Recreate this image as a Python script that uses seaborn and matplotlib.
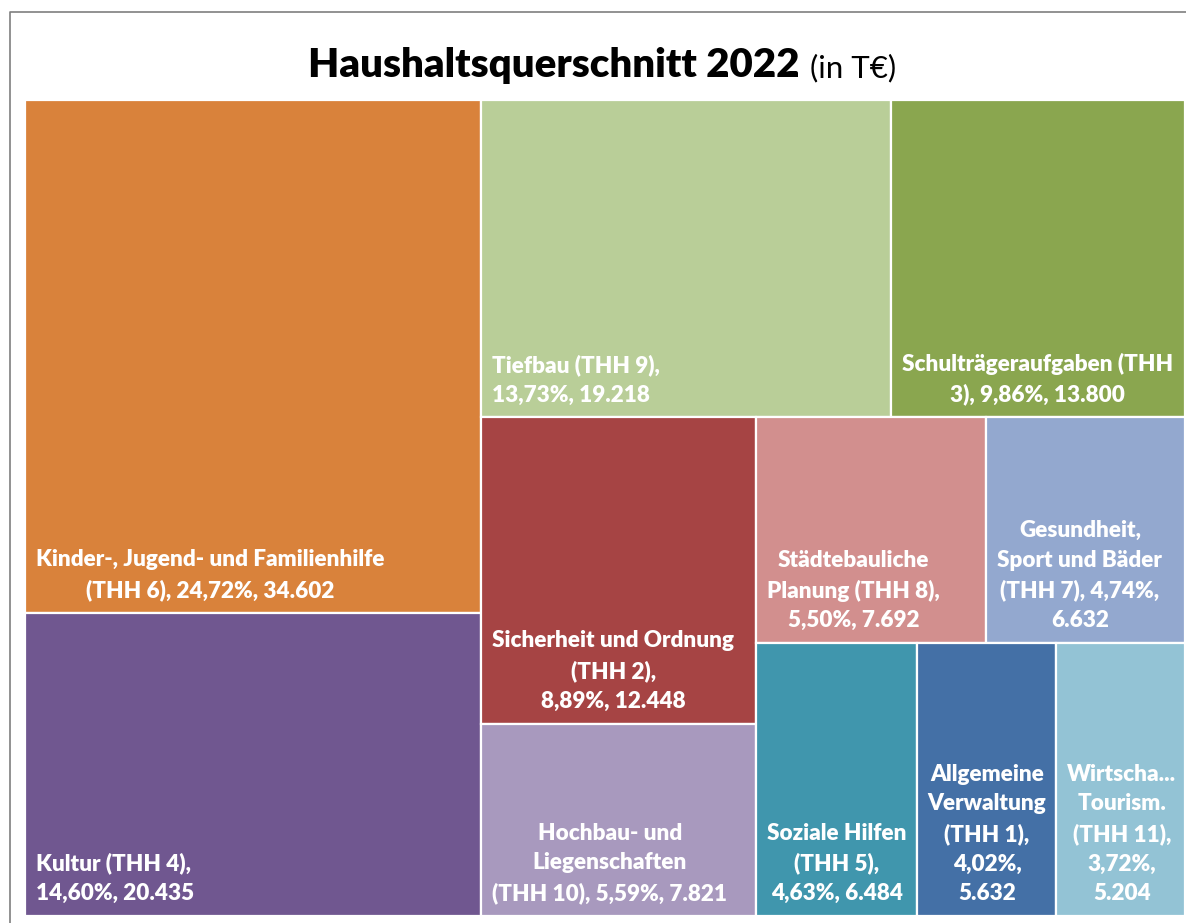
import matplotlib
matplotlib.use("Agg")
import matplotlib.pyplot as plt
import seaborn as sns
from matplotlib.lines import Line2D

# data: Haushaltsquerschnitt 2022, values in T€
names = [
    "Kinder-, Jugend- und Familienhilfe\n(THH 6), {p}, {v}",
    "Kultur (THH 4),\n{p}, {v}",
    "Tiefbau (THH 9),\n{p}, {v}",
    "Schulträgeraufgaben (THH\n3), {p}, {v}",
    "Sicherheit und Ordnung\n(THH 2),\n{p}, {v}",
    "Hochbau- und\nLiegenschaften\n(THH 10), {p}, {v}",
    "Städtebauliche\nPlanung (THH 8),\n{p}, {v}",
    "Gesundheit,\nSport und Bäder\n(THH 7), {p},\n{v}",
    "Soziale Hilfen\n(THH 5),\n{p}, {v}",
    "Allgemeine\nVerwaltung\n(THH 1),\n{p},\n{v}",
    "Wirtscha...\nTourism.\n(THH 11),\n{p},\n{v}",
]
values = [34602, 20435, 19218, 13800, 12448, 7821, 7692, 6632, 6484, 5632, 5204]
colors = ["#D9823B", "#705790", "#B9CE98", "#8AA64F", "#A64444", "#A899BE",
          "#D28F8E", "#93A8CF", "#4096AD", "#4470A6", "#93C3D5"]
groups = [2, 2, 2, 2, 3]  # how many tiles go into each strip

sns.set_style("white")
plt.rcParams['font.family'] = ['Lato', 'DejaVu Sans']


def fmt_num(v):
    return f"{v:,}".replace(",", ".")


def treemap(vals, groups, x, y, w, h):
    # slice the remaining rectangle strip by strip (Excel-like layout)
    rects = []
    i = 0
    for n in groups:
        part = vals[i:i + n]
        frac = sum(part) / sum(vals[i:])
        last = i + n == len(vals)
        if last:
            if w >= h:
                xx = x
                for v in part:
                    ww = w * v / sum(part)
                    rects.append((xx, y, ww, h))
                    xx += ww
            else:
                yy = y
                for v in part:
                    hh = h * v / sum(part)
                    rects.append((x, yy, w, hh))
                    yy += hh
        elif w >= h:
            sw = w * frac
            yy = y
            for v in part:
                hh = h * v / sum(part)
                rects.append((x, yy, sw, hh))
                yy += hh
            x += sw
            w -= sw
        else:
            sh = h * frac
            xx = x
            for v in part:
                ww = w * v / sum(part)
                rects.append((xx, y, ww, sh))
                xx += ww
            y += sh
            h -= sh
        i += n
    return rects


W, H = 1160, 816
rects = treemap(values, groups, 0, 0, W, H)
total = sum(values)

fig = plt.figure(figsize=(11.86, 9.23), dpi=100)
ax = fig.add_axes([25 / 1186, 7 / 923, 1160 / 1186, 816 / 923])

ax.bar([r[0] for r in rects], [r[3] for r in rects], width=[r[2] for r in rects],
       bottom=[r[1] for r in rects], align="edge", color=colors,
       edgecolor="white", linewidth=1.6)

left_lines = {1, 2}
for k, (r, lab, v) in enumerate(zip(rects, names, values)):
    pct = f"{100 * v / total:.2f}".replace(".", ",") + "%"
    txt = lab.format(p=pct, v=fmt_num(v))
    ax.annotate(txt, xy=(r[0], r[1] + r[3]), xytext=(8, 8.5), textcoords="offset points",
                ha="left", va="bottom", color="white", fontsize=16.2, fontweight="heavy",
                multialignment="left" if k in left_lines else "center", linespacing=1.5)

ax.set_xlim(0, W)
ax.set_ylim(H, 0)
ax.axis("off")

# title
fig.text(800 / 1186, 1 - 77 / 923, "Haushaltsquerschnitt 2022", ha="right", va="baseline",
         fontsize=29, fontweight="heavy", color="black")
fig.text(810 / 1186, 1 - 77 / 923, "(in T€)", ha="left", va="baseline",
         fontsize=22.5, color="black")

# chart area border
fig.add_artist(Line2D([10 / 1186, 10 / 1186, 1], [0, 1 - 12 / 923, 1 - 12 / 923],
                      color="#7f7f7f", linewidth=1.2))

fig.savefig("out.png", dpi=100)
